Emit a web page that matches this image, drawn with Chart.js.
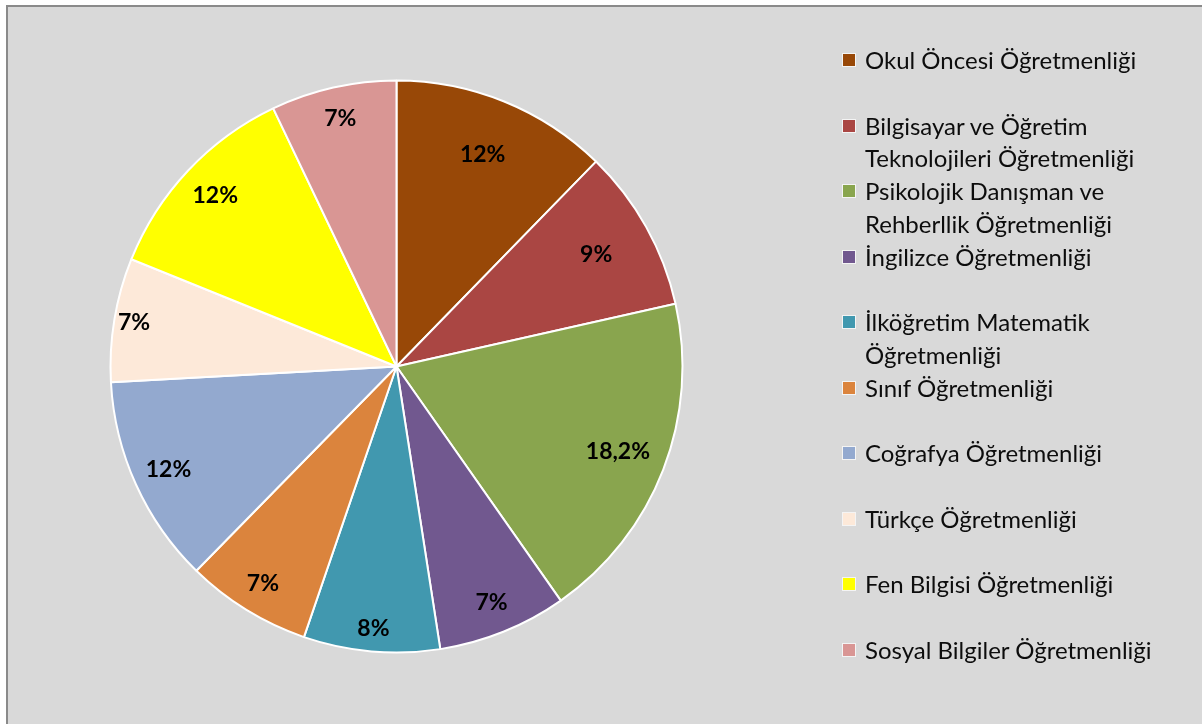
<!DOCTYPE html>
<html>
<head>
<meta charset="utf-8">
<script src="https://cdn.jsdelivr.net/npm/chart.js@4/dist/chart.umd.min.js"></script>
<style>
  html, body { margin: 0; padding: 0; width: 1202px; height: 724px; overflow: hidden; background: #ffffff; }
  #frame { position: absolute; left: 6px; top: 5px; width: 1300px; height: 800px; background: #d9d9d9; border: 2px solid #8a8a8a; }
  #myChart { position: absolute; left: 0; top: 0; }
  #legend { position: absolute; left: 842px; top: 0; font-family: Lato, "Open Sans", sans-serif; font-size: 24px; color: #0d0d0d; }
  .item { position: absolute; left: 0; white-space: pre-line; line-height: 32.5px; padding-left: 23px; width: 340px; }
  .box { position: absolute; left: 0; top: 9px; width: 12px; height: 12px; border: 1px solid #f4f4f4; }
</style>
</head>
<body>
<div id="frame"></div>
<canvas id="myChart" width="1202" height="724"></canvas>
<div id="legend"></div>
<script>
// categories (legend text, line breaks as in the original legend)
var categories = [
    'Okul Öncesi Öğretmenliği',
    'Bilgisayar ve Öğretim\nTeknolojileri Öğretmenliği',
    'Psikolojik Danışman ve\nRehberllik Öğretmenliği',
    'İngilizce Öğretmenliği',
    'İlköğretim Matematik\nÖğretmenliği',
    'Sınıf Öğretmenliği',
    'Coğrafya Öğretmenliği',
    'Türkçe Öğretmenliği',
    'Fen Bilgisi Öğretmenliği',
    'Sosyal Bilgiler Öğretmenliği'
];
// slice sizes
var shares = [12.3, 9.2, 18.8, 7.3, 7.7, 7.1, 11.8, 7.0, 11.8, 7.1];
// percentage labels as printed on the slices
var shareLabels = ['12%', '9%', '18,2%', '7%', '8%', '7%', '12%', '7%', '12%', '7%'];
var colors = ['#984807', '#aa4643', '#89a54e', '#71588f', '#4198af',
              '#db843d', '#93a9cf', '#fde9d9', '#ffff00', '#d99694'];
// how far out each label sits, as a fraction of the radius
var labelRadius = [0.80, 0.80, 0.83, 0.89, 0.92, 0.89, 0.875, 0.93, 0.87, 0.89];

// legend
var legend = document.getElementById('legend');
categories.forEach(function (name, i) {
    var item = document.createElement('div');
    item.className = 'item';
    item.style.top = (44 + i * 65.5) + 'px';
    var box = document.createElement('span');
    box.className = 'box';
    box.style.background = colors[i];
    item.appendChild(box);
    item.appendChild(document.createTextNode(name));
    legend.appendChild(item);
});

// percent labels inside each slice
var sliceLabels = {
    id: 'sliceLabels',
    afterDatasetsDraw: function (chart) {
        var ctx = chart.ctx;
        var arcs = chart.getDatasetMeta(0).data;
        ctx.save();
        ctx.font = 'bold 23px Lato, "Open Sans", sans-serif';
        ctx.fillStyle = '#000';
        ctx.textAlign = 'center';
        ctx.textBaseline = 'middle';
        arcs.forEach(function (arc, i) {
            var p = arc.getProps(['x', 'y', 'startAngle', 'endAngle', 'outerRadius'], true);
            var mid = (p.startAngle + p.endAngle) / 2;
            var r = p.outerRadius * labelRadius[i];
            ctx.fillText(shareLabels[i], p.x + Math.cos(mid) * r, p.y + Math.sin(mid) * r);
        });
        ctx.restore();
    }
};

var ctx = document.getElementById('myChart').getContext('2d');
var chart = new Chart(ctx, {
    type: 'pie',
    data: {
        labels: categories,
        datasets: [{
            data: shares,
            backgroundColor: colors,
            borderColor: '#ffffff',
            borderWidth: 2,
            hoverOffset: 0,
            radius: 286
        }]
    },
    options: {
        responsive: false,
        animation: false,
        layout: { padding: { left: 100, right: 509, top: 70, bottom: 61 } },
        plugins: {
            legend: { display: false },
            tooltip: { enabled: false }
        }
    },
    plugins: [sliceLabels]
});
</script>
</body>
</html>
